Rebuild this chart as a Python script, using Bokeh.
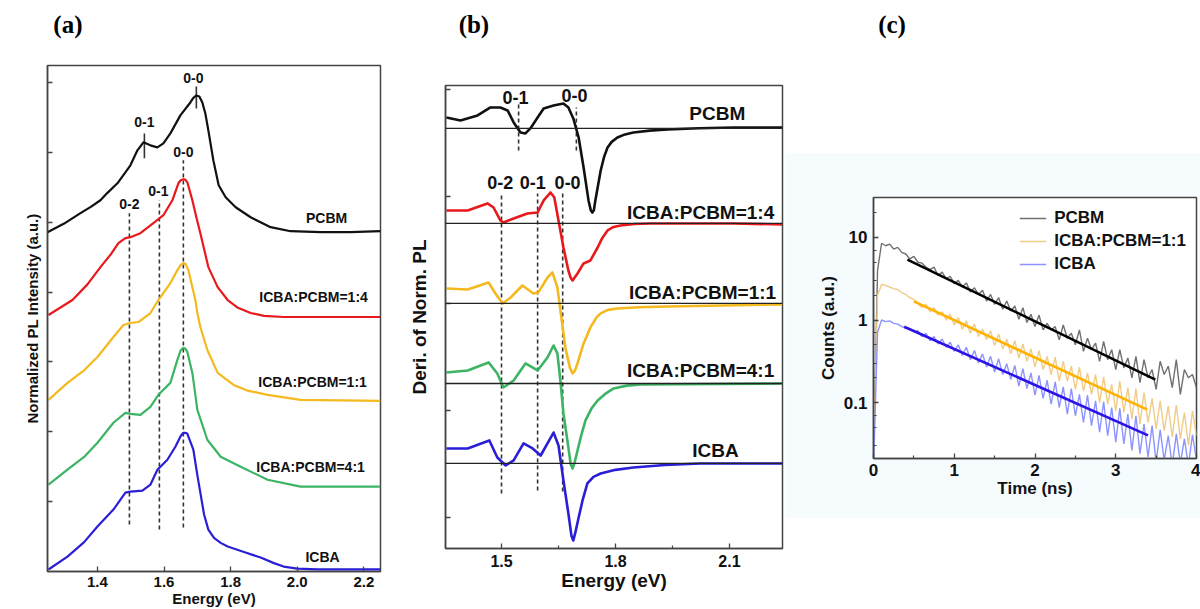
from bokeh.plotting import figure
from bokeh.layouts import row, column
from bokeh.models import Range1d, FixedTicker, CustomJSTickFormatter, Legend, Span
from bokeh.core.properties import value
from bokeh.embed import file_html
from bokeh.resources import INLINE

FONT = "Liberation Sans"
SERIF = "Liberation Serif"

# ---------------- Panel (a): normalized PL spectra (offset stacked) ----------------
a_x_ticks = [1.4, 1.6, 1.8, 2.0, 2.2]
a_y_ticks = [1, 2, 3, 4, 5, 6, 7]

a_pcbm_e = [1.250, 1.300, 1.349, 1.380, 1.409, 1.430, 1.460, 1.499, 1.520, 1.538, 1.559, 1.580, 1.598,
            1.619, 1.649, 1.679, 1.688, 1.697, 1.706, 1.715, 1.724, 1.733, 1.748, 1.764, 1.785, 1.815,
            1.860, 1.920, 1.980, 2.070, 2.160, 2.250]
a_pcbm_i = [4.857, 4.980, 5.129, 5.220, 5.314, 5.420, 5.557, 5.814, 6.029, 6.143, 6.100, 6.071, 6.129,
            6.271, 6.529, 6.714, 6.780, 6.814, 6.800, 6.714, 6.557, 6.314, 5.886, 5.529, 5.357, 5.214,
            5.071, 4.929, 4.871, 4.857, 4.857, 4.871]

a_14_e = [1.253, 1.325, 1.370, 1.409, 1.440, 1.463, 1.484, 1.499, 1.529, 1.568, 1.598, 1.625, 1.643,
          1.650, 1.658, 1.664, 1.670, 1.685, 1.697, 1.709, 1.733, 1.761, 1.791, 1.820, 1.860, 1.900,
          1.959, 2.109, 2.250]
a_14_i = [3.671, 3.886, 4.110, 4.357, 4.540, 4.700, 4.771, 4.786, 4.843, 4.986, 5.100, 5.314, 5.557,
          5.600, 5.614, 5.610, 5.571, 5.314, 5.070, 4.843, 4.357, 4.071, 3.886, 3.780, 3.700, 3.660,
          3.643, 3.643, 3.643]

a_11_e = [1.253, 1.310, 1.360, 1.400, 1.448, 1.478, 1.499, 1.523, 1.559, 1.583, 1.619, 1.640, 1.650,
          1.658, 1.665, 1.673, 1.694, 1.700, 1.709, 1.730, 1.761, 1.809, 1.850, 1.911, 2.010, 2.250]
a_11_i = [2.457, 2.700, 2.880, 3.071, 3.357, 3.529, 3.557, 3.571, 3.700, 3.886, 4.129, 4.314, 4.390,
          4.414, 4.400, 4.314, 3.886, 3.700, 3.500, 3.171, 2.843, 2.671, 2.590, 2.529, 2.457, 2.443]

a_41_e = [1.253, 1.310, 1.360, 1.400, 1.448, 1.484, 1.499, 1.529, 1.559, 1.583, 1.619, 1.640, 1.650,
          1.658, 1.664, 1.670, 1.685, 1.692, 1.700, 1.730, 1.770, 1.830, 1.911, 2.010, 2.250]
a_41_i = [1.243, 1.457, 1.640, 1.843, 2.129, 2.271, 2.257, 2.243, 2.357, 2.529, 2.700, 3.029, 3.170,
          3.200, 3.190, 3.143, 2.843, 2.600, 2.314, 1.886, 1.643, 1.500, 1.314, 1.214, 1.214]

a_icba_e = [1.253, 1.310, 1.360, 1.400, 1.448, 1.484, 1.499, 1.535, 1.559, 1.580, 1.610, 1.634, 1.650,
            1.658, 1.664, 1.670, 1.688, 1.700, 1.709, 1.720, 1.733, 1.750, 1.770, 1.791, 1.840, 1.890,
            1.930, 1.959, 2.000, 2.061, 2.250]
a_icba_i = [0.029, 0.214, 0.420, 0.643, 0.886, 1.129, 1.143, 1.157, 1.243, 1.457, 1.600, 1.786, 1.940,
            1.986, 1.985, 1.971, 1.743, 1.380, 1.129, 0.820, 0.600, 0.480, 0.410, 0.357, 0.280, 0.200,
            0.120, 0.071, 0.040, 0.029, 0.029]

a_names = ["PCBM", "ICBA:PCBM=1:4", "ICBA:PCBM=1:1", "ICBA:PCBM=4:1", "ICBA"]
a_name_x = [2.088, 2.049, 2.046, 2.040, 2.076]
a_name_y = [5.057, 3.929, 2.714, 1.500, 0.214]

# vibronic markers (dashed guide lines for blends/ICBA)
a_dash_e = [1.496, 1.586, 1.658]
a_dash_lo = [0.671, 0.600, 0.629]
a_dash_hi = [5.129, 5.314, 5.886]
a_dash_lab = ["0-2", "0-1", "0-0"]
a_dash_lab_e = [1.496, 1.583, 1.658]
a_dash_lab_y = [5.257, 5.443, 6.000]
# PCBM markers (solid)
a_pm_e = [1.541, 1.697]
a_pm_lo = [5.914, 6.629]
a_pm_hi = [6.271, 6.943]
a_pm_lab = ["0-1", "0-0"]
a_pm_lab_e = [1.541, 1.688]
a_pm_lab_y = [6.429, 7.071]

# ---------------- Panel (b): derivative of normalized PL ----------------
b_x_ticks = [1.5, 1.8, 2.1]
b_x_minor = [1.35, 1.65, 1.95]
b_y_ticks = [0, 1, 2, 3, 4]

b_pcbm_e = [1.355, 1.392, 1.437, 1.471, 1.497, 1.516, 1.532, 1.550, 1.563, 1.576, 1.595, 1.611, 1.637,
            1.663, 1.676, 1.689, 1.703, 1.716, 1.729, 1.735, 1.739, 1.743, 1.747, 1.761, 1.770, 1.779,
            1.790, 1.805, 1.825, 1.847, 1.890, 1.937, 2.020, 2.111, 2.239]
b_pcbm_d = [3.738, 3.710, 3.757, 3.832, 3.832, 3.804, 3.692, 3.598, 3.589, 3.636, 3.738, 3.822, 3.850,
            3.869, 3.832, 3.729, 3.551, 3.271, 2.963, 2.870, 2.850, 2.870, 2.963, 3.243, 3.370, 3.458,
            3.510, 3.551, 3.580, 3.598, 3.615, 3.626, 3.637, 3.645, 3.645]

b_14_e = [1.355, 1.411, 1.463, 1.479, 1.497, 1.505, 1.532, 1.568, 1.595, 1.611, 1.629, 1.639, 1.650,
          1.663, 1.676, 1.682, 1.687, 1.693, 1.700, 1.716, 1.734, 1.753, 1.765, 1.779, 1.795, 1.813,
          1.850, 1.892, 2.111, 2.239]
b_14_d = [2.869, 2.869, 2.935, 2.897, 2.776, 2.757, 2.794, 2.841, 2.850, 2.963, 3.037, 2.991, 2.776,
          2.523, 2.308, 2.240, 2.215, 2.245, 2.280, 2.374, 2.402, 2.523, 2.610, 2.682, 2.715, 2.729,
          2.742, 2.748, 2.748, 2.738]

b_11_e = [1.355, 1.411, 1.466, 1.484, 1.503, 1.524, 1.555, 1.584, 1.597, 1.621, 1.634, 1.647, 1.661,
          1.668, 1.680, 1.687, 1.693, 1.700, 1.716, 1.734, 1.750, 1.761, 1.780, 1.805, 1.860, 1.937,
          2.239]
b_11_d = [2.140, 2.131, 2.196, 2.093, 2.000, 2.056, 2.168, 2.093, 2.103, 2.243, 2.290, 2.150, 1.776,
          1.589, 1.400, 1.346, 1.370, 1.439, 1.626, 1.776, 1.870, 1.907, 1.940, 1.953, 1.965, 1.972,
          1.991]

b_41_e = [1.355, 1.411, 1.466, 1.489, 1.505, 1.532, 1.563, 1.595, 1.621, 1.637, 1.647, 1.655, 1.663,
          1.676, 1.682, 1.687, 1.693, 1.700, 1.710, 1.721, 1.737, 1.753, 1.775, 1.795, 1.830, 1.866,
          2.239]
b_41_d = [1.355, 1.374, 1.449, 1.346, 1.215, 1.280, 1.439, 1.374, 1.495, 1.607, 1.533, 1.280, 0.972,
          0.654, 0.500, 0.458, 0.520, 0.626, 0.770, 0.907, 1.020, 1.093, 1.160, 1.206, 1.232, 1.243,
          1.252]

b_icba_e = [1.355, 1.411, 1.468, 1.489, 1.511, 1.532, 1.558, 1.582, 1.603, 1.621, 1.637, 1.650, 1.663,
            1.676, 1.684, 1.689, 1.695, 1.703, 1.714, 1.726, 1.742, 1.761, 1.800, 1.847, 1.930, 2.024,
            2.239]
b_icba_d = [0.645, 0.645, 0.720, 0.561, 0.486, 0.533, 0.692, 0.645, 0.579, 0.692, 0.794, 0.673, 0.346,
            0.037, -0.170, -0.215, -0.130, 0.000, 0.170, 0.318, 0.380, 0.411, 0.445, 0.467, 0.490, 0.505,
            0.505]

b_zero = [3.636, 2.748, 2.000, 1.252, 0.505]
b_names = ["PCBM", "ICBA:PCBM=1:4", "ICBA:PCBM=1:1", "ICBA:PCBM=4:1", "ICBA"]
b_name_x = [2.068, 2.024, 2.029, 2.024, 2.063]
b_name_y = [3.776, 2.850, 2.103, 1.374, 0.626]

b_dash_e = [1.500, 1.595, 1.661, 1.545, 1.697]
b_dash_lo = [0.224, 0.252, 0.243, 3.430, 3.430]
b_dash_hi = [3.028, 3.028, 3.028, 3.869, 3.832]
b_lab = ["0-2", "0-1", "0-0", "0-1", "0-0"]
b_lab_e = [1.497, 1.582, 1.674, 1.537, 1.692]
b_lab_y = [3.131, 3.131, 3.131, 3.925, 3.944]

# ---------------- Panel (c): TRPL decays ----------------
c_x_ticks = [0, 1, 2, 3, 4]
c_x_minor = [0.5, 1.5, 2.5, 3.5]
c_y_ticks = [0.1, 1, 10]
c_y_minor = [0.03, 0.05, 0.07, 0.2, 0.3, 0.5, 0.7, 2, 3, 5, 7, 20]

c_time = [0.00, 0.05, 0.10, 0.15, 0.20, 0.25, 0.30, 0.35, 0.40, 0.45,
          0.50, 0.55, 0.60, 0.65, 0.70, 0.75, 0.80, 0.85, 0.90, 0.95,
          1.00, 1.05, 1.10, 1.15, 1.20, 1.25, 1.30, 1.35, 1.40, 1.45,
          1.50, 1.55, 1.60, 1.65, 1.70, 1.75, 1.80, 1.85, 1.90, 1.95,
          2.00, 2.05, 2.10, 2.15, 2.20, 2.25, 2.30, 2.35, 2.40, 2.45,
          2.50, 2.55, 2.60, 2.65, 2.70, 2.75, 2.80, 2.85, 2.90, 2.95,
          3.00, 3.05, 3.10, 3.15, 3.20, 3.25, 3.30, 3.35, 3.40, 3.45,
          3.50, 3.55, 3.60, 3.65, 3.70, 3.75, 3.80, 3.85, 3.90, 3.95,
          4.00]
c_pcbm_log10 = [-1.70, 0.60, 0.93, 0.90, 0.92, 0.86, 0.88, 0.82, 0.80, 0.74,
                0.77, 0.70, 0.69, 0.64, 0.61, 0.64, 0.54, 0.58, 0.50, 0.53,
                0.44, 0.48, 0.40, 0.45, 0.34, 0.39, 0.31, 0.36, 0.23, 0.31,
                0.19, 0.27, 0.13, 0.23, 0.11, 0.17, 0.01, 0.15, -0.03, 0.07,
                -0.08, 0.06, -0.12, -0.04, -0.12, -0.08, -0.24, -0.06, -0.22, -0.16,
                -0.30, -0.12, -0.38, -0.22, -0.36, -0.28, -0.50, -0.26, -0.48, -0.36,
                -0.60, -0.36, -0.58, -0.46, -0.70, -0.44, -0.76, -0.48, -0.70, -0.60,
                -0.84, -0.50, -0.66, -0.56, -0.82, -0.48, -0.90, -0.60, -0.70, -0.66,
                -0.82]
c_mix_log10 = [-1.70, 0.30, 0.43, 0.42, 0.40, 0.38, 0.37, 0.33, 0.31, 0.27,
               0.25, 0.20, 0.15, 0.19, 0.10, 0.15, 0.06, 0.10, 0.00, 0.07,
               -0.06, 0.03, -0.11, -0.01, -0.16, -0.05, -0.20, -0.11, -0.24, -0.13,
               -0.31, -0.17, -0.35, -0.23, -0.41, -0.25, -0.46, -0.29, -0.50, -0.35,
               -0.57, -0.37, -0.60, -0.44, -0.66, -0.45, -0.74, -0.50, -0.74, -0.56,
               -0.84, -0.57, -0.86, -0.64, -0.90, -0.66, -1.00, -0.69, -1.02, -0.78,
               -1.10, -0.74, -1.12, -0.82, -1.20, -0.83, -1.26, -0.88, -1.24, -0.95,
               -1.32, -0.98, -1.34, -1.04, -1.42, -1.03, -1.44, -1.12, -1.52, -1.10,
               -1.40]
c_icba_log10 = [-1.80, -0.15, 0.00, -0.02, -0.01, -0.04, -0.05, -0.08, -0.10, -0.11,
                -0.14, -0.13, -0.20, -0.16, -0.25, -0.20, -0.29, -0.23, -0.33, -0.27,
                -0.38, -0.30, -0.43, -0.33, -0.48, -0.37, -0.52, -0.41, -0.57, -0.44,
                -0.63, -0.47, -0.66, -0.53, -0.72, -0.55, -0.80, -0.59, -0.83, -0.64,
                -0.91, -0.67, -0.95, -0.73, -1.02, -0.75, -1.06, -0.81, -1.14, -0.83,
                -1.16, -0.90, -1.24, -0.91, -1.28, -0.98, -1.36, -0.99, -1.40, -1.06,
                -1.48, -1.07, -1.50, -1.14, -1.58, -1.16, -1.62, -1.26, -1.66, -1.28,
                -1.72, -1.33, -1.70, -1.40, -1.76, -1.38, -1.74, -1.44, -1.76, -1.39,
                -1.70]
c_pcbm_fit_t = [0.42, 3.49]
c_pcbm_fit = [5.4, 0.19]
c_mix_fit_t = [0.50, 3.39]
c_mix_fit = [1.68, 0.082]
c_icba_fit_t = [0.38, 3.40]
c_icba_fit = [0.83, 0.040]

# ---------------- styling helpers ----------------
CBLACK, CRED, CYEL, CGRN, CBLU = "#111111", "#e8191c", "#f5b920", "#3cb464", "#2a1fd6"


def style(p, tick_fs, label_fs):
    p.grid.visible = False
    p.outline_line_color = "#444444"
    p.outline_line_width = 1.5
    for ax in p.axis:
        ax.axis_line_color = "#444444"
        ax.axis_line_width = 1.5
        ax.major_tick_line_color = "#444444"
        ax.major_tick_line_width = 1.3
        ax.minor_tick_line_color = "#444444"
        ax.minor_tick_line_width = 1.2
        ax.major_tick_in = 5
        ax.major_tick_out = 0
        ax.minor_tick_in = 3
        ax.minor_tick_out = 0
        ax.major_label_text_font = FONT
        ax.major_label_text_font_style = "bold"
        ax.major_label_text_font_size = tick_fs
        ax.major_label_text_color = "#111111"
        ax.axis_label_text_font = FONT
        ax.axis_label_text_font_style = "bold"
        ax.axis_label_text_font_size = label_fs
        ax.axis_label_text_color = "#111111"


def blank(w, h, label=None, lx=0, fill="white"):
    p = figure(width=w, height=h, x_range=Range1d(0, w), y_range=Range1d(0, h),
               x_axis_type=None, y_axis_type=None, toolbar_location=None,
               output_backend="svg", min_border=0, outline_line_color=None,
               background_fill_color=fill, border_fill_color=fill)
    if label:
        p.text(x=[lx], y=[h - 24], text=[label], text_font=value(SERIF),
               text_font_style="bold", text_font_size="25px", text_align="left",
               text_baseline="middle", text_color="#000000")
    return p


def labels(p, xs, ys, txt, fs):
    p.text(x=xs, y=ys, text=txt, text_font=value(FONT), text_font_style="bold",
           text_font_size=fs, text_align="center", text_baseline="middle",
           text_color="#111111")


def unlabeled_ticks(ax, ticks):
    # tick marks only (no labels), as in the reference's offset-stacked axes
    ax.ticker = FixedTicker(ticks=[], minor_ticks=ticks)
    ax.minor_tick_in = 5
    ax.minor_tick_line_width = 1.3
    ax.major_label_standoff = 0


# ---------------- Panel (a) ----------------
pa = figure(width=400, height=564, x_range=Range1d(1.25, 2.25), y_range=Range1d(0, 7.243),
            toolbar_location=None, output_backend="svg",
            min_border_left=47, min_border_right=20, min_border_top=20, min_border_bottom=37)
style(pa, "15px", "15px")
pa.xaxis.axis_label = "Energy (eV)"
pa.yaxis.axis_label = "Normalized PL Intensity (a.u.)"
pa.xaxis.ticker = FixedTicker(ticks=a_x_ticks, minor_ticks=[])
pa.xaxis.formatter = CustomJSTickFormatter(code="return tick.toFixed(1);")
pa.xaxis.major_label_standoff = 5
pa.xaxis.axis_label_standoff = 0
unlabeled_ticks(pa.yaxis[0], a_y_ticks)
pa.yaxis.axis_label_standoff = 7

pa.segment(x0=a_dash_e, y0=a_dash_lo, x1=a_dash_e, y1=a_dash_hi, line_color="#333333",
           line_width=1.6, line_dash="4 3")
pa.segment(x0=a_pm_e, y0=a_pm_lo, x1=a_pm_e, y1=a_pm_hi, line_color="#333333", line_width=1.6)
pa.line(a_pcbm_e, a_pcbm_i, line_color=CBLACK, line_width=2.2, line_join="round")
pa.line(a_14_e, a_14_i, line_color=CRED, line_width=2.2, line_join="round")
pa.line(a_11_e, a_11_i, line_color=CYEL, line_width=2.2, line_join="round")
pa.line(a_41_e, a_41_i, line_color=CGRN, line_width=2.2, line_join="round")
pa.line(a_icba_e, a_icba_i, line_color=CBLU, line_width=2.2, line_join="round")
labels(pa, a_name_x, a_name_y, a_names, "14px")
labels(pa, a_dash_lab_e, a_dash_lab_y, a_dash_lab, "14px")
labels(pa, a_pm_lab_e, a_pm_lab_y, a_pm_lab, "14px")

# ---------------- Panel (b) ----------------
pb = figure(width=385, height=564, x_range=Range1d(1.3526, 2.2395), y_range=Range1d(-0.29, 4.037),
            toolbar_location=None, output_backend="svg",
            min_border_left=45, min_border_right=3, min_border_top=40, min_border_bottom=61)
style(pb, "16px", "19px")
pb.xaxis.axis_label = "Energy (eV)"
pb.yaxis.axis_label = "Deri. of Norm. PL"
pb.xaxis.ticker = FixedTicker(ticks=b_x_ticks, minor_ticks=b_x_minor)
pb.xaxis.formatter = CustomJSTickFormatter(code="return tick.toFixed(1);")
pb.xaxis.major_label_standoff = 6
pb.xaxis.axis_label_standoff = 0
unlabeled_ticks(pb.yaxis[0], b_y_ticks)
pb.yaxis.axis_label_standoff = 16

for z in b_zero:
    pb.add_layout(Span(location=z, dimension="width", line_color="#222222", line_width=1.3))
pb.segment(x0=b_dash_e, y0=b_dash_lo, x1=b_dash_e, y1=b_dash_hi, line_color="#333333",
           line_width=1.6, line_dash="4 3")
pb.line(b_pcbm_e, b_pcbm_d, line_color=CBLACK, line_width=2.6, line_join="round")
pb.line(b_14_e, b_14_d, line_color=CRED, line_width=2.6, line_join="round")
pb.line(b_11_e, b_11_d, line_color=CYEL, line_width=2.6, line_join="round")
pb.line(b_41_e, b_41_d, line_color=CGRN, line_width=2.6, line_join="round")
pb.line(b_icba_e, b_icba_d, line_color=CBLU, line_width=2.6, line_join="round")
labels(pb, b_name_x, b_name_y, b_names, "19px")
labels(pb, b_lab_e, b_lab_y, b_lab, "18px")

# ---------------- Panel (c) ----------------
pc = figure(width=415, height=365, x_range=Range1d(0, 4), y_range=Range1d(0.021, 30.5),
            y_axis_type="log", toolbar_location=None, output_backend="svg",
            min_border_left=88, min_border_right=4, min_border_top=44, min_border_bottom=60,
            background_fill_color="white", border_fill_color="#f6fcfe")
style(pc, "17px", "17px")
pc.xaxis.axis_label = "Time (ns)"
pc.yaxis.axis_label = "Counts (a.u.)"
pc.xaxis.ticker = FixedTicker(ticks=c_x_ticks, minor_ticks=c_x_minor)
pc.xaxis.formatter = CustomJSTickFormatter(code="return tick.toFixed(0);")
pc.xaxis.major_label_standoff = 5
pc.xaxis.axis_label_standoff = 0
pc.yaxis.ticker = FixedTicker(ticks=c_y_ticks, minor_ticks=c_y_minor)
pc.yaxis.formatter = CustomJSTickFormatter(code="return tick >= 1 ? tick.toFixed(0) : tick.toFixed(1);")
pc.yaxis.major_label_standoff = 6
pc.yaxis.axis_label_standoff = 3

r1 = pc.line(c_time, [10 ** v for v in c_pcbm_log10], line_color="#707070", line_width=1.4)
r2 = pc.line(c_time, [10 ** v for v in c_mix_log10], line_color="#f0cc88", line_width=1.4)
r3 = pc.line(c_time, [10 ** v for v in c_icba_log10], line_color="#8c94ff", line_width=1.4)
pc.line(c_pcbm_fit_t, c_pcbm_fit, line_color="#000000", line_width=2.6)
pc.line(c_mix_fit_t, c_mix_fit, line_color="#ffb300", line_width=2.6)
pc.line(c_icba_fit_t, c_icba_fit, line_color="#2c12e6", line_width=2.6)

leg = Legend(items=[("PCBM", [r1]), ("ICBA:PCBM=1:1", [r2]), ("ICBA", [r3])],
             location="top_right", margin=10, padding=3, spacing=1,
             glyph_width=27, glyph_height=22, label_height=22, label_standoff=8,
             label_text_font=FONT, label_text_font_style="bold", label_text_font_size="17px",
             label_text_color="#111111", border_line_color=None, background_fill_alpha=0)
pc.add_layout(leg)

# ---------------- layout ----------------
col_a = column(blank(400, 45, "(a)", 7), pa, spacing=0)
col_b = column(blank(385, 45, "(b)", 15), pb, spacing=0)
col_c = column(blank(415, 153, "(c)", 6), pc, blank(415, 91), spacing=0)
layout = row(col_a, col_b, col_c, spacing=0)

open("out.html", "w").write(file_html(layout, INLINE))
